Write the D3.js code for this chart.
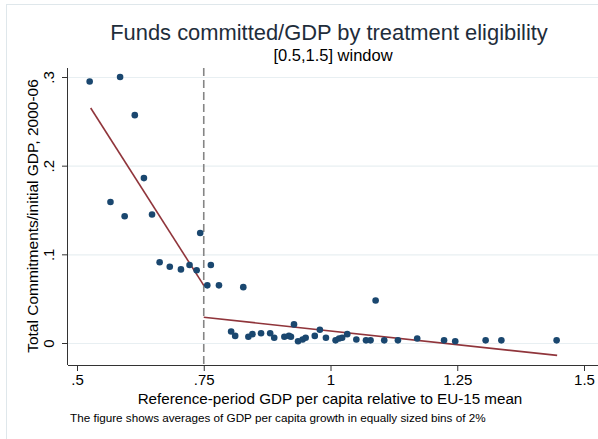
<!DOCTYPE html>
<html>
<head>
<meta charset="utf-8">
<script src="https://cdn.jsdelivr.net/npm/d3@7"></script>
<style>
  body { margin: 0; background: #fff; }
  svg { display: block; font-family: "Liberation Sans", Arial, sans-serif; }
  .axis path, .axis line { stroke: #333; }
  .axis text { fill: #000; font-size: 15px; }
  .grid line { stroke: #e8eff2; stroke-width: 1.2; }
  .grid path { display: none; }
</style>
</head>
<body>
<svg width="598" height="439"></svg>
<script>
// binned means: reference-period GDP per capita (rel. EU-15) vs commitments/GDP
var binX = [0.525, 0.585, 0.614, 0.632, 0.566, 0.594, 0.648, 0.663, 0.683, 0.705,
            0.722, 0.736, 0.743, 0.764, 0.757, 0.780, 0.828, 1.089, 0.804, 0.812,
            0.838, 0.846, 0.863, 0.881, 0.889, 0.909, 0.918, 0.922, 0.928, 0.936,
            0.945, 0.951, 0.969, 0.979, 0.991, 1.010, 1.017, 1.023, 1.033, 1.051,
            1.070, 1.079, 1.106, 1.133, 1.171, 1.224, 1.246, 1.306, 1.337, 1.446];
var binY = [0.295, 0.300, 0.257, 0.186, 0.159, 0.143, 0.145, 0.091, 0.086, 0.083,
            0.088, 0.082, 0.124, 0.088, 0.065, 0.065, 0.063, 0.048, 0.013, 0.008,
            0.007, 0.010, 0.011, 0.011, 0.006, 0.007, 0.008, 0.007, 0.021, 0.002,
            0.004, 0.006, 0.008, 0.015, 0.006, 0.003, 0.005, 0.006, 0.010, 0.004,
            0.003, 0.003, 0.003, 0.003, 0.005, 0.003, 0.002, 0.003, 0.003, 0.003];

// linear fits on either side of the 0.75 threshold
var fitLeft = [[0.527, 0.265], [0.75, 0.065]];
var fitRight = [[0.75, 0.029], [1.447, -0.014]];

var threshold = 0.75;
var xTicks = [0.5, 0.75, 1, 1.25, 1.5];
var xTickLabels = [".5", ".75", "1", "1.25", "1.5"];
var yTicks = [0, 0.1, 0.2, 0.3];
var yTickLabels = ["0", ".1", ".2", ".3"];

var svg = d3.select("svg");

// plot box edges (pixels)
var plotLeft = 68, plotRight = 598, plotTop = 68, plotBottom = 365;

var x = d3.scaleLinear().domain([0.5, 1.5]).range([77, 584]),
    y = d3.scaleLinear().domain([0, 0.3]).range([343, 77]);

// outer graph region outline
svg.append("rect")
    .attr("x", 6.5).attr("y", 4.5)
    .attr("width", 620).attr("height", 460)
    .attr("fill", "none")
    .attr("stroke", "#dfe7eb");

// horizontal grid
svg.append("g")
    .attr("class", "grid")
    .attr("transform", "translate(" + plotLeft + ",0)")
    .call(d3.axisRight(y).tickValues(yTicks).tickSize(plotRight - plotLeft).tickFormat(""));

// axes
svg.append("g")
    .attr("class", "axis x")
    .attr("transform", "translate(0," + plotBottom + ")")
    .call(d3.axisBottom(x).tickValues(xTicks).tickSize(6).tickPadding(3)
        .tickFormat(function(d, i) { return xTickLabels[i]; }))
    .call(function(g) { g.select(".domain").attr("d", "M" + plotLeft + ",0.5H" + plotRight); });

svg.append("g")
    .attr("class", "axis y")
    .attr("transform", "translate(" + plotLeft + ",0)")
    .call(d3.axisLeft(y).tickValues(yTicks).tickSize(6).tickPadding(3)
        .tickFormat(function(d, i) { return yTickLabels[i]; }))
    .call(function(g) {
        g.select(".domain").attr("d", "M-0.5," + plotTop + "V" + plotBottom);
        g.selectAll(".tick text")
            .attr("transform", "rotate(-90)")
            .attr("x", 0).attr("y", -14)
            .attr("dy", "0")
            .attr("text-anchor", "middle");
    });

// threshold line
svg.append("line")
    .attr("x1", x(threshold)).attr("x2", x(threshold))
    .attr("y1", plotTop).attr("y2", plotBottom)
    .attr("stroke", "#858585")
    .attr("stroke-width", 1.6)
    .attr("stroke-dasharray", "8,4");

// fit lines
var line = d3.line()
    .x(function(d) { return x(d[0]); })
    .y(function(d) { return y(d[1]); });

svg.selectAll(".fit")
    .data([fitLeft, fitRight])
    .enter().append("path")
    .attr("class", "fit")
    .attr("d", line)
    .attr("fill", "none")
    .attr("stroke", "#90353b")
    .attr("stroke-width", 1.6);

// scatter
svg.selectAll(".dot")
    .data(binX.map(function(v, i) { return [v, binY[i]]; }))
    .enter().append("circle")
    .attr("class", "dot")
    .attr("cx", function(d) { return x(d[0]); })
    .attr("cy", function(d) { return y(d[1]); })
    .attr("r", 3.3)
    .attr("fill", "#1a476f");

// titles
svg.append("text")
    .attr("x", 329).attr("y", 40)
    .attr("text-anchor", "middle")
    .style("font-size", "21.9px")
    .attr("fill", "#1e2d3b")
    .text("Funds committed/GDP by treatment eligibility");

svg.append("text")
    .attr("x", 333).attr("y", 61)
    .attr("text-anchor", "middle")
    .style("font-size", "16.5px")
    .text("[0.5,1.5] window");

svg.append("text")
    .attr("transform", "translate(38," + 216 + ") rotate(-90)")
    .attr("text-anchor", "middle")
    .style("font-size", "15.5px")
    .text("Total Commitments/initial GDP, 2000-06");

svg.append("text")
    .attr("x", 330).attr("y", 404)
    .attr("text-anchor", "middle")
    .style("font-size", "15.2px")
    .text("Reference-period GDP per capita relative to EU-15 mean");

svg.append("text")
    .attr("x", 70).attr("y", 422)
    .style("font-size", "11.7px")
    .text("The figure shows averages of GDP per capita growth in equally sized bins of 2%");
</script>
</body>
</html>
